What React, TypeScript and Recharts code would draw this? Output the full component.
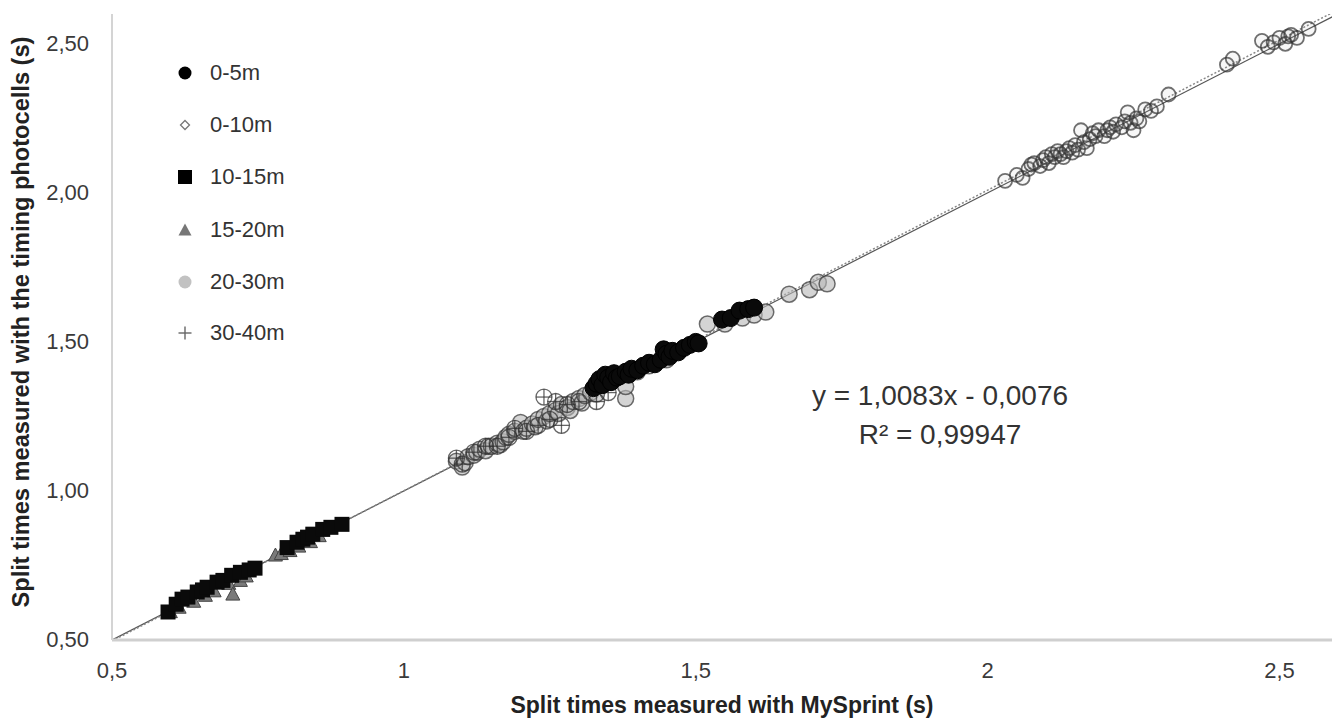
import React from "react";
import { ScatterChart, Scatter, XAxis, YAxis, ReferenceLine } from "recharts";

// ---- data ----
const xTicks = [0.5, 1, 1.5, 2, 2.5];
const yTicks = [0.5, 1.0, 1.5, 2.0, 2.5];

const split0to5 = [
  [1.325, 1.345], [1.33, 1.36], [1.335, 1.375], [1.34, 1.355], [1.345, 1.39], [1.35, 1.38],
  [1.355, 1.365], [1.36, 1.395], [1.365, 1.38], [1.37, 1.385], [1.38, 1.40], [1.385, 1.39],
  [1.39, 1.41], [1.40, 1.405], [1.41, 1.42], [1.42, 1.43], [1.43, 1.425], [1.44, 1.44],
  [1.445, 1.475], [1.45, 1.46], [1.455, 1.45], [1.46, 1.47], [1.47, 1.465], [1.48, 1.48],
  [1.49, 1.49], [1.50, 1.50], [1.505, 1.495], [1.545, 1.575], [1.56, 1.58], [1.575, 1.605],
  [1.59, 1.61], [1.60, 1.615],
];
const split0to10 = [
  [2.03, 2.04], [2.05, 2.06], [2.06, 2.05], [2.07, 2.08], [2.075, 2.095], [2.08, 2.10],
  [2.09, 2.09], [2.095, 2.11], [2.10, 2.12], [2.105, 2.10], [2.11, 2.13], [2.115, 2.12],
  [2.12, 2.14], [2.125, 2.13], [2.13, 2.12], [2.135, 2.14], [2.14, 2.15], [2.145, 2.135],
  [2.15, 2.16], [2.155, 2.145], [2.16, 2.21], [2.165, 2.17], [2.17, 2.15], [2.175, 2.18],
  [2.18, 2.20], [2.185, 2.19], [2.19, 2.21], [2.20, 2.19], [2.205, 2.21], [2.21, 2.22],
  [2.215, 2.205], [2.22, 2.23], [2.23, 2.22], [2.235, 2.24], [2.24, 2.27], [2.245, 2.235],
  [2.25, 2.21], [2.255, 2.25], [2.26, 2.24], [2.27, 2.28], [2.28, 2.275], [2.29, 2.29],
  [2.31, 2.33], [2.41, 2.43], [2.42, 2.45], [2.47, 2.51], [2.48, 2.49], [2.49, 2.505],
  [2.50, 2.52], [2.51, 2.50], [2.515, 2.525], [2.52, 2.53], [2.53, 2.52], [2.55, 2.55],
];
const split10to15 = [
  [0.596, 0.594], [0.61, 0.62], [0.62, 0.637], [0.63, 0.644], [0.646, 0.661], [0.655, 0.668],
  [0.663, 0.677], [0.68, 0.694], [0.69, 0.70], [0.705, 0.717], [0.72, 0.727], [0.735, 0.735],
  [0.745, 0.741], [0.80, 0.81], [0.817, 0.828], [0.827, 0.838], [0.835, 0.845], [0.844, 0.855],
  [0.861, 0.871], [0.875, 0.878], [0.894, 0.888],
];
const split15to20 = [
  [0.60, 0.595], [0.615, 0.61], [0.64, 0.63], [0.66, 0.65], [0.675, 0.665], [0.70, 0.69],
  [0.707, 0.654], [0.72, 0.70], [0.73, 0.715], [0.78, 0.785], [0.79, 0.79], [0.805, 0.80],
  [0.82, 0.815], [0.84, 0.83], [0.855, 0.85],
];
const split20to30 = [
  [1.09, 1.10], [1.10, 1.08], [1.105, 1.095], [1.11, 1.115], [1.12, 1.12], [1.125, 1.13],
  [1.13, 1.14], [1.14, 1.135], [1.145, 1.15], [1.15, 1.15], [1.16, 1.16], [1.165, 1.155],
  [1.17, 1.165], [1.175, 1.18], [1.18, 1.19], [1.19, 1.20], [1.20, 1.23], [1.205, 1.20],
  [1.21, 1.21], [1.22, 1.225], [1.225, 1.215], [1.23, 1.24], [1.24, 1.25], [1.245, 1.235],
  [1.25, 1.26], [1.26, 1.27], [1.265, 1.26], [1.27, 1.29], [1.28, 1.28], [1.285, 1.27],
  [1.29, 1.30], [1.30, 1.31], [1.305, 1.295], [1.31, 1.32], [1.32, 1.33], [1.33, 1.325],
  [1.38, 1.31], [1.38, 1.35], [1.40, 1.40], [1.42, 1.42], [1.45, 1.44], [1.52, 1.56],
  [1.55, 1.56], [1.58, 1.58], [1.60, 1.59], [1.62, 1.60], [1.66, 1.66], [1.695, 1.675],
  [1.71, 1.70], [1.725, 1.695],
];
const split30to40 = [
  [1.09, 1.11], [1.10, 1.09], [1.12, 1.13], [1.14, 1.15], [1.16, 1.15], [1.18, 1.18],
  [1.19, 1.21], [1.21, 1.20], [1.23, 1.22], [1.24, 1.315], [1.25, 1.24], [1.26, 1.30],
  [1.27, 1.22], [1.28, 1.29], [1.30, 1.30], [1.33, 1.30], [1.35, 1.33],
];

const legendLabels = ["0-5m", "0-10m", "10-15m", "15-20m", "20-30m", "30-40m"];
const xTitle = "Split times measured with MySprint (s)";
const yTitle = "Split times measured with the timing photocells (s)";
const equation = "y = 1,0083x - 0,0076";
const rSquared = "R² = 0,99947";
const slope = 1.0083;
const intercept = -0.0076;

const toPts = (arr: number[][]) => arr.map(([x, y]) => ({ x, y }));

const FONT = "'Liberation Sans', Arial, Helvetica, sans-serif";

// ---- marker shapes ----
const BlackCircle = (p: any) => <circle cx={p.cx} cy={p.cy} r={8.5} fill="#0a0a0a" stroke="#000" strokeWidth={1} />;
const OpenCircle = (p: any) => (
  <circle cx={p.cx} cy={p.cy} r={7} fill="#999" fillOpacity={0.08} stroke="#333" strokeOpacity={0.7} strokeWidth={1.8} />
);
const BlackSquare = (p: any) => <rect x={p.cx - 7.5} y={p.cy - 7.5} width={15} height={15} fill="#0a0a0a" />;
const GrayTriangle = (p: any) => (
  <polygon
    points={`${p.cx},${p.cy - 7} ${p.cx - 7},${p.cy + 6} ${p.cx + 7},${p.cy + 6}`}
    fill="#7a7a7a"
    stroke="#444"
    strokeWidth={1}
  />
);
const GrayCircle = (p: any) => (
  <circle cx={p.cx} cy={p.cy} r={8} fill="#b8b8b8" fillOpacity={0.6} stroke="#333" strokeOpacity={0.7} strokeWidth={1.5} />
);
const CrossCircle = (p: any) => (
  <g stroke="#333" strokeOpacity={0.75} strokeWidth={1.3} fill="none">
    <circle cx={p.cx} cy={p.cy} r={8} />
    <line x1={p.cx - 8} y1={p.cy} x2={p.cx + 8} y2={p.cy} />
    <line x1={p.cx} y1={p.cy - 8} x2={p.cx} y2={p.cy + 8} />
  </g>
);

const XTick = (props: any) => (
  <text x={props.x} y={672} textAnchor="middle" dominantBaseline="middle" fontFamily={FONT} fontSize={22} fill="#3a3a3a">
    {String(props.payload.value).replace(".", ",")}
  </text>
);
const YTick = (props: any) => (
  <text x={89} y={props.y + 1} textAnchor="end" dominantBaseline="middle" fontFamily={FONT} fontSize={22} fill="#3a3a3a">
    {Number(props.payload.value).toFixed(2).replace(".", ",")}
  </text>
);

const legendIcon = (i: number) => {
  const c = 10;
  switch (i) {
    case 0:
      return <circle cx={c} cy={c} r={6.5} fill="#000" />;
    case 1:
      return <polygon points="10,5.5 14.5,10 10,14.5 5.5,10" fill="#fff" stroke="#777" strokeWidth={1.3} />;
    case 2:
      return <rect x={3} y={3} width={14} height={14} fill="#000" />;
    case 3:
      return <polygon points="10,3.5 16.5,15.5 3.5,15.5" fill="#777" />;
    case 4:
      return <circle cx={c} cy={c} r={6.5} fill="#c2c2c2" />;
    default:
      return (
        <g stroke="#666" strokeWidth={1.4}>
          <line x1={3.5} y1={10} x2={16.5} y2={10} />
          <line x1={10} y1={3.5} x2={10} y2={16.5} />
        </g>
      );
  }
};

const legendY = [73, 125, 177, 230, 282, 333];

export default function App() {
  const lineStart = 0.5;
  const lineEnd = 2.6;
  return (
    <div style={{ position: "absolute", left: 0, top: 0, width: 1332, height: 718, background: "#fff", overflow: "hidden" }}>
      <ScatterChart width={1332} height={718} margin={{ top: 14, right: 0, left: 0, bottom: 28 }}>
        <XAxis
          type="number"
          dataKey="x"
          domain={[0.5, 2.59]}
          ticks={xTicks}
          allowDataOverflow
          axisLine={{ stroke: "#cfcfcf", strokeWidth: 3 }}
          tickLine={false}
          tick={<XTick />}
          height={50}
        />
        <YAxis
          type="number"
          dataKey="y"
          domain={[0.5, 2.6]}
          ticks={yTicks}
          allowDataOverflow
          axisLine={{ stroke: "#d4d4d4", strokeWidth: 2 }}
          tickLine={false}
          tick={<YTick />}
          width={112}
        />
        <ReferenceLine
          segment={[{ x: lineStart, y: lineStart }, { x: lineEnd, y: lineEnd }]}
          stroke="#555"
          strokeWidth={1.2}
          ifOverflow="hidden"
        />
        <ReferenceLine
          segment={[
            { x: lineStart, y: slope * lineStart + intercept },
            { x: lineEnd, y: slope * lineEnd + intercept },
          ]}
          stroke="#888"
          strokeWidth={1.5}
          strokeDasharray="2 2"
          ifOverflow="hidden"
        />
        <Scatter name="15-20m" data={toPts(split15to20)} shape={GrayTriangle} isAnimationActive={false} />
        <Scatter name="10-15m" data={toPts(split10to15)} shape={BlackSquare} isAnimationActive={false} />
        <Scatter name="20-30m" data={toPts(split20to30)} shape={GrayCircle} isAnimationActive={false} />
        <Scatter name="30-40m" data={toPts(split30to40)} shape={CrossCircle} isAnimationActive={false} />
        <Scatter name="0-5m" data={toPts(split0to5)} shape={BlackCircle} isAnimationActive={false} />
        <Scatter name="0-10m" data={toPts(split0to10)} shape={OpenCircle} isAnimationActive={false} />
      </ScatterChart>

      <svg width={1332} height={718} style={{ position: "absolute", left: 0, top: 0, pointerEvents: "none" }}>
        {legendLabels.map((lab, i) => (
          <g key={lab}>
            <g transform={`translate(175, ${legendY[i] - 10})`}>{legendIcon(i)}</g>
            <text x={210} y={legendY[i] + 1} dominantBaseline="middle" fontFamily={FONT} fontSize={22} fill="#333">
              {lab}
            </text>
          </g>
        ))}
        <text x={940} y={398} textAnchor="middle" dominantBaseline="middle" fontFamily={FONT} fontSize={28} fill="#333">
          {equation}
        </text>
        <text x={940} y={437} textAnchor="middle" dominantBaseline="middle" fontFamily={FONT} fontSize={28} fill="#333">
          {rSquared}
        </text>
        <text x={722} y={707} textAnchor="middle" dominantBaseline="middle" fontFamily={FONT} fontSize={23} fontWeight="bold" fill="#222">
          {xTitle}
        </text>
        <text
          transform="translate(23, 322) rotate(-90)"
          textAnchor="middle"
          dominantBaseline="middle"
          fontFamily={FONT}
          fontSize={23}
          fontWeight="bold"
          fill="#222"
          textLength={571}
          lengthAdjust="spacingAndGlyphs"
        >
          {yTitle}
        </text>
      </svg>
    </div>
  );
}
